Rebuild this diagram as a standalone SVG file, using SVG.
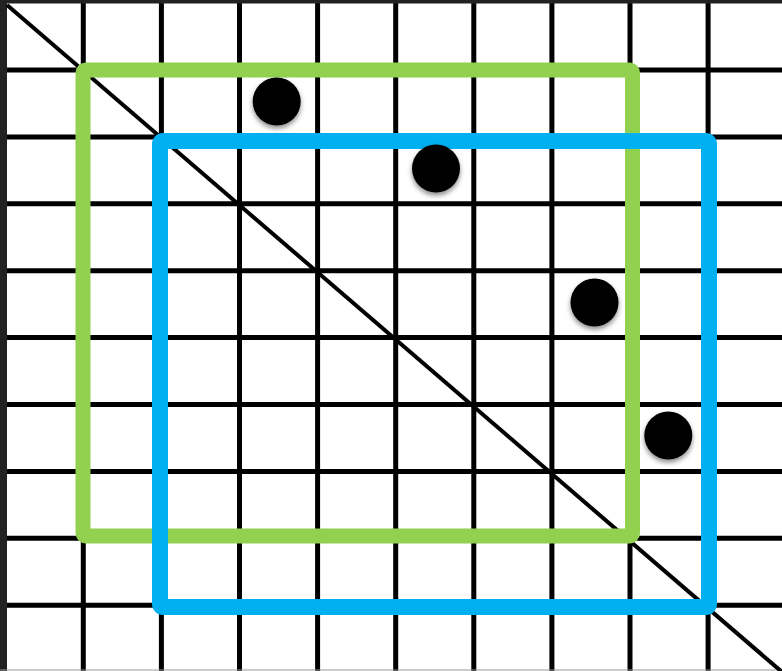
<svg xmlns="http://www.w3.org/2000/svg" width="782" height="671" viewBox="0 0 782 671">
  <defs>
    <filter id="sh" x="-50%" y="-50%" width="200%" height="200%">
      <feDropShadow dx="0" dy="3" stdDeviation="2.5" flood-color="#000" flood-opacity="0.45"/>
    </filter>
  </defs>
  <style>
    .g { stroke: #000; stroke-width: 5; fill: none; }
    .dot { fill: #000; filter: url(#sh); }
  </style>
  <rect x="0" y="0" width="782" height="671" fill="#fff"/>
  <g id="grid">
    <path class="g" d="M83.3 0V671M161.4 0V671M239.5 0V671M317.6 0V671M395.7 0V671M473.8 0V671M551.9 0V671M630 0V671M708.1 0V671"/>
    <path class="g" d="M0 70H782M0 136.9H782M0 203.8H782M0 270.7H782M0 337.6H782M0 404.5H782M0 471.4H782M0 538.3H782M0 605.2H782"/>
    <rect x="0" y="0" width="7" height="671" fill="#222"/>
    <rect x="0" y="0" width="782" height="3.5" fill="#222"/>
    <line x1="0" y1="670" x2="782" y2="670" stroke="#999" stroke-width="1"/>
  </g>
  <g id="diagonal">
    <line x1="7" y1="5" x2="782" y2="672" stroke="#000" stroke-width="4"/>
  </g>
  <g id="green-box">
    <rect x="83" y="70" width="549.5" height="466" rx="3" fill="none" stroke="#92d050" stroke-width="15"/>
  </g>
  <g id="blue-box">
    <rect x="160" y="141" width="549" height="466" rx="3" fill="none" stroke="#00b0f0" stroke-width="16"/>
  </g>
  <g id="dots">
    <circle class="dot" cx="276.7" cy="101.5" r="24"/>
    <circle class="dot" cx="436" cy="168.5" r="24"/>
    <circle class="dot" cx="594.5" cy="302.5" r="24"/>
    <circle class="dot" cx="668.3" cy="435.5" r="24"/>
  </g>
</svg>
